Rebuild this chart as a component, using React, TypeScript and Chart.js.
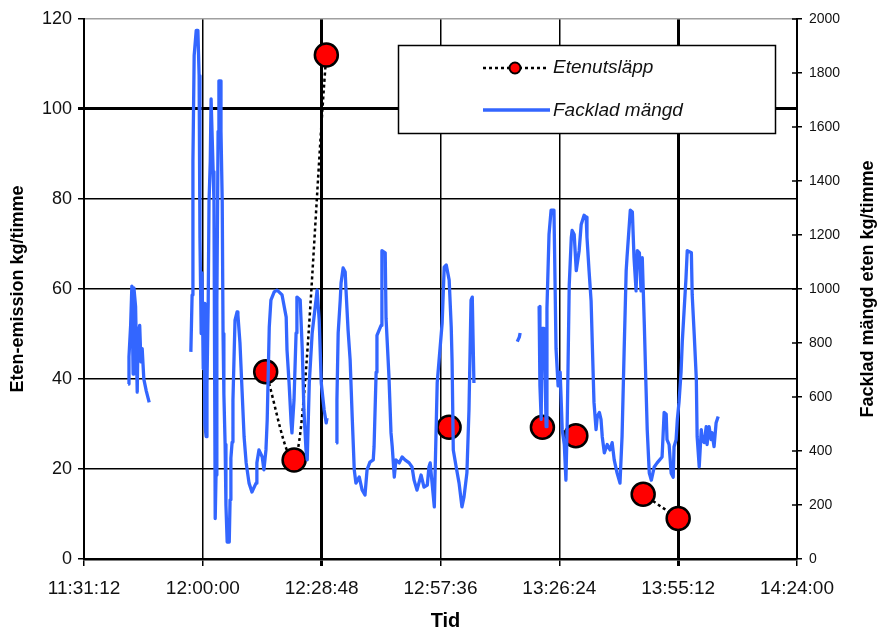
import React, { useEffect, useRef } from 'react';
import { Chart, registerables } from 'chart.js';

Chart.register(...registerables);

const FONT = '"Liberation Sans", Arial, Helvetica, sans-serif';

// Axis ticks
const X_TICKS = ['11:31:12', '12:00:00', '12:28:48', '12:57:36', '13:26:24', '13:55:12', '14:24:00'];
const X_THICK = ['12:28:48', '13:55:12'];
const LEFT_MAX = 120;
const LEFT_STEP = 20;
const RIGHT_MAX = 2000;
const RIGHT_STEP = 200;

const LEFT_TITLE = 'Eten-emission kg/timme';
const RIGHT_TITLE = 'Facklad mängd eten kg/timme';
const X_TITLE = 'Tid';

// Etenutsläpp (kg/timme, left axis)
const ETEN_LABEL = 'Etenutsläpp';
const ETEN_TIMES = ['12:15:14', '12:22:07', '12:29:56', '12:59:41', '13:22:18', '13:30:24', '13:46:43', '13:55:12'];
const ETEN_VALUES = [41.6, 22.0, 112.0, 29.3, 29.3, 27.4, 14.4, 9.0];
// whether each sample is joined to the next one by the dotted line
const ETEN_LINKED = [true, true, false, false, false, false, true];

// Facklad mängd (kg/timme, right axis); time in minutes after midnight, null = gap in log
const FACK_LABEL = 'Facklad mängd';
const FACK_MIN = [
  701.9, 702.1, 702.5, 702.8, 703.1, 703.3, 703.7, 704.1, 704.3, 704.7, 705.0, 705.3, 705.7, 706.3, 707.0,
  712.0,
  717.1, 717.4, 717.6, 717.9, 718.4, 718.8, 719.1, 719.3, 719.6, 719.8, 720.1, 720.3, 720.5, 720.8, 721.0,
  721.3, 721.5, 721.8, 722.0, 722.2, 722.5, 722.7, 723.0, 723.2, 723.4, 723.7, 723.9, 724.2, 724.4, 724.7,
  724.9, 725.1, 725.4, 725.6, 725.9, 726.4, 726.6, 726.8, 727.1, 727.3, 727.6, 727.8, 728.3, 728.5, 729.0,
  729.5, 730.0, 730.5, 731.2, 731.9, 732.9, 733.1, 733.6, 734.4, 734.8, 735.3, 735.6, 736.1, 736.5, 737.3,
  738.0, 739.2, 740.2, 740.4, 740.9, 741.4, 741.6, 742.1, 742.6, 742.8, 743.6, 744.1, 744.5, 745.0, 745.3,
  745.8, 746.5, 747.7, 748.2, 748.7, 749.4, 749.9, 750.1,
  751.0,
  752.3, 752.5, 752.8, 753.3, 753.5, 754.0, 754.5, 754.7, 755.2, 755.7, 756.2, 756.7, 757.1, 757.9, 758.6,
  759.3, 759.8, 760.5, 761.3, 761.5, 762.0, 762.2, 763.2, 763.4, 764.2, 764.4, 765.1, 765.6, 765.9, 766.4,
  766.8, 767.6, 768.3, 769.0, 770.0, 770.7, 771.2, 771.9, 772.9, 773.6, 774.4, 774.8, 775.1, 776.1, 776.8,
  777.8, 778.0, 778.5, 779.0, 779.7, 780.2, 780.4, 780.7, 781.4, 782.1, 782.8, 783.3, 784.0, 784.5, 785.0,
  785.3, 785.7,
  790.0,
  796.2, 796.7, 796.9,
  799.0,
  801.5, 801.7, 802.0, 802.2, 802.7, 803.2, 803.4, 803.9, 804.4, 805.1, 805.6, 806.1, 806.6, 807.1, 807.6,
  808.0, 808.3, 808.8, 809.3, 809.5, 810.0, 810.5, 811.2, 811.7, 812.4, 812.9, 813.1, 813.6, 814.1, 814.4,
  814.8, 815.3, 815.6, 816.1, 816.5, 816.8, 817.3, 818.0, 818.7, 819.2, 819.7, 820.4, 821.1, 821.6, 822.1,
  822.6, 822.8, 823.6, 824.1, 824.5, 825.0, 825.3, 825.8, 826.2, 826.5, 827.0, 827.4, 827.7, 828.2, 828.7,
  829.4, 830.1, 831.3, 831.8, 832.3, 832.5, 833.0, 833.5, 834.0, 834.2, 834.7, 835.0, 835.4, 835.9, 836.2,
  837.1, 837.4, 838.4, 838.6, 839.1, 839.6, 839.8, 840.3, 840.8, 841.0, 841.5, 842.0, 842.2, 842.7, 843.2,
  843.4, 843.9, 844.4, 844.9,
];
const FACK_KG = [
  648, 749, 865, 1011, 685, 1004, 936, 618, 835, 865, 730, 779, 666, 622, 580,
  null,
  767, 978, 1472, 1865, 1958, 1958, 1790, 1191, 835, 1060, 705, 947, 498, 453, 648,
  947, 1322, 1472, 1704, 1704, 1435, 1322, 150, 311, 947, 1584, 1771, 1771, 1584, 1322,
  835, 611, 424, 199, 63, 63, 219, 374, 433, 589, 767, 885, 915, 904, 800,
  626, 452, 356, 281, 248, 281, 356, 404, 378, 330, 404, 515, 859, 959, 989,
  996, 978, 896, 774, 652, 504, 467, 589, 837, 970, 959, 774, 552, 404, 367,
  652, 837, 996, 885, 652, 552, 504, 522,
  null,
  430, 589, 837, 959, 1022, 1078, 1063, 996, 848, 737, 526, 330, 281, 304, 256,
  237, 330, 359, 367, 416, 692, 828, 865, 1142, 1134, 892, 678, 468, 416, 303,
  367, 356, 378, 367, 356, 341, 292, 255, 311, 266, 274, 341, 356, 193, 652,
  837, 874, 1081, 1089, 1033, 859, 737, 404, 341, 281, 193, 230, 319, 552, 959,
  970, 652,
  null,
  805, 822, 837,
  null,
  936, 641, 517, 854, 854, 490, 929, 1202, 1292, 1292, 779, 641, 692, 479, 424,
  292, 498, 1015, 1191, 1217, 1202, 1068, 1142, 1239, 1273, 1266, 1191, 1068, 955, 791,
  580, 479, 528, 543, 517, 453, 393, 424, 404, 431, 367, 318, 281, 453, 767,
  1068, 1116, 1292, 1285, 1116, 993, 1142, 1134, 993, 1116, 865, 641, 479, 318, 292,
  341, 356, 378, 543, 536, 442, 424, 318, 303, 416, 442, 517, 580, 692, 805,
  1041, 1142, 1134, 978, 828, 666, 453, 341, 479, 442, 431, 490, 424, 490, 442,
  468, 416, 505, 528,
];

const parseTime = (s: string) => {
  const [h, m, sec] = s.split(':').map(Number);
  return h * 60 + m + sec / 60;
};
const fmtTime = (v: number) => {
  const total = Math.round(v * 60);
  const h = Math.floor(total / 3600);
  const m = Math.floor((total % 3600) / 60);
  const s = total % 60;
  const p = (n: number) => String(n).padStart(2, '0');
  return `${p(h)}:${p(m)}:${p(s)}`;
};

const decorPlugin = {
  id: 'decor',
  afterDraw(chart: any) {
    const ctx = chart.ctx;
    const area = chart.chartArea;
    const yR = chart.scales.y1;
    ctx.save();
    // inner half of the crossing tick marks on the right axis
    ctx.strokeStyle = '#000';
    ctx.lineWidth = 1.5;
    yR.ticks.forEach((t: any) => {
      const py = yR.getPixelForValue(t.value);
      ctx.beginPath();
      ctx.moveTo(area.right - 5, py);
      ctx.lineTo(area.right, py);
      ctx.stroke();
    });

    // axis titles
    const cy = (area.top + area.bottom) / 2;
    ctx.fillStyle = '#000';
    ctx.font = `bold 18px ${FONT}`;
    ctx.textAlign = 'center';
    ctx.textBaseline = 'middle';
    ctx.save();
    ctx.translate(18, cy);
    ctx.rotate(-Math.PI / 2);
    ctx.fillText(LEFT_TITLE, 0, 0);
    ctx.restore();
    ctx.save();
    ctx.translate(868, cy);
    ctx.rotate(-Math.PI / 2);
    ctx.fillText(RIGHT_TITLE, 0, 0);
    ctx.restore();
    ctx.font = `bold 20px ${FONT}`;
    ctx.textBaseline = 'alphabetic';
    ctx.fillText(X_TITLE, (area.left + area.right) / 2 + 5, 627);

    // legend box
    const bx = 398.5, by = 45.5, bw = 377, bh = 88;
    ctx.fillStyle = '#fff';
    ctx.fillRect(bx, by, bw, bh);
    ctx.strokeStyle = '#000';
    ctx.lineWidth = 1.5;
    ctx.strokeRect(bx, by, bw, bh);

    const r1 = 68, r2 = 110;
    ctx.setLineDash([3, 3]);
    ctx.lineWidth = 2.5;
    ctx.beginPath();
    ctx.moveTo(483, r1);
    ctx.lineTo(547, r1);
    ctx.stroke();
    ctx.setLineDash([]);
    ctx.beginPath();
    ctx.arc(515, r1, 5.5, 0, Math.PI * 2);
    ctx.fillStyle = '#ff0000';
    ctx.fill();
    ctx.lineWidth = 2;
    ctx.stroke();

    ctx.strokeStyle = '#3366ff';
    ctx.lineWidth = 3.5;
    ctx.beginPath();
    ctx.moveTo(483, r2);
    ctx.lineTo(550, r2);
    ctx.stroke();

    ctx.fillStyle = '#111';
    ctx.font = `italic 19px ${FONT}`;
    ctx.textAlign = 'left';
    ctx.textBaseline = 'middle';
    ctx.fillText(ETEN_LABEL, 553, r1);
    ctx.fillText(FACK_LABEL, 553, r2 + 1);
    ctx.restore();
  },
};

export default function App() {
  const canvasRef = useRef<HTMLCanvasElement | null>(null);

  useEffect(() => {
    if (!canvasRef.current) return;

    const etenData: any[] = [];
    ETEN_TIMES.forEach((t, i) => {
      etenData.push({ x: parseTime(t), y: ETEN_VALUES[i] });
      if (i < ETEN_TIMES.length - 1 && !ETEN_LINKED[i]) {
        etenData.push({ x: (parseTime(t) + parseTime(ETEN_TIMES[i + 1])) / 2, y: null });
      }
    });
    const fackData = FACK_MIN.map((m, i) => ({ x: m, y: FACK_KG[i] }));

    const xMin = parseTime(X_TICKS[0]);
    const xMax = parseTime(X_TICKS[X_TICKS.length - 1]);
    const thick = X_THICK.map(parseTime);

    const chart = new Chart(canvasRef.current, {
      type: 'line',
      data: {
        datasets: [
          {
            label: FACK_LABEL,
            data: fackData,
            yAxisID: 'y1',
            borderColor: '#3366ff',
            borderWidth: 3.3,
            borderJoinStyle: 'round',
            pointRadius: 0,
            tension: 0,
            spanGaps: false,
            order: 0,
          },
          {
            label: ETEN_LABEL,
            data: etenData,
            yAxisID: 'y',
            borderColor: '#000',
            borderWidth: 2.5,
            borderDash: [3, 3],
            cubicInterpolationMode: 'monotone',
            spanGaps: false,
            pointRadius: 11.5,
            pointBackgroundColor: '#ff0000',
            pointBorderColor: '#000',
            pointBorderWidth: 2.5,
            order: 1,
          },
        ],
      } as any,
      options: {
        animation: false,
        responsive: false,
        events: [],
        layout: { padding: { top: 19, left: 0, right: 0, bottom: 0 } },
        plugins: {
          legend: { display: false },
          tooltip: { enabled: false },
        },
        scales: {
          x: {
            type: 'linear',
            min: xMin,
            max: xMax,
            afterBuildTicks: (s: any) => {
              s.ticks = X_TICKS.map((t) => ({ value: parseTime(t) }));
            },
            afterFit: (s: any) => {
              s.height = 69;
            },
            ticks: {
              callback: (v: any) => fmtTime(Number(v)),
              font: { size: 19, family: FONT },
              color: '#111',
              padding: 11,
              maxRotation: 0,
              autoSkip: false,
            },
            grid: {
              color: '#000',
              lineWidth: (c: any) =>
                c.tick && thick.some((t) => Math.abs(t - c.tick.value) < 0.01) ? 3 : 1.5,
              tickLength: 7,
            },
            border: { color: '#000', width: 2.5 },
          },
          y: {
            position: 'left',
            min: 0,
            max: LEFT_MAX,
            afterFit: (s: any) => {
              s.width = 84;
            },
            ticks: {
              stepSize: LEFT_STEP,
              callback: (v: any) => String(v),
              font: { size: 18, family: FONT },
              color: '#111',
              padding: 6,
            },
            grid: {
              color: (c: any) => (c.tick && c.tick.value === LEFT_MAX ? '#a0a0a0' : '#000'),
              tickColor: '#000',
              lineWidth: (c: any) => (c.tick && c.tick.value === 100 ? 3 : 1.5),
              tickLength: 6,
            },
            border: { color: '#000', width: 2 },
          },
          y1: {
            position: 'right',
            min: 0,
            max: RIGHT_MAX,
            afterFit: (s: any) => {
              s.width = 81;
            },
            ticks: {
              stepSize: RIGHT_STEP,
              callback: (v: any) => String(v),
              font: { size: 14, family: FONT },
              color: '#111',
              padding: 7,
            },
            grid: {
              drawOnChartArea: false,
              color: '#000',
              lineWidth: 1.5,
              tickLength: 5,
            },
            border: { color: '#000', width: 2 },
          },
        },
      } as any,
      plugins: [decorPlugin],
    });

    return () => chart.destroy();
  }, []);

  return (
    <div style={{ position: 'absolute', left: 0, top: 0, width: 878, height: 628, background: '#fff' }}>
      <canvas ref={canvasRef} width={878} height={628} style={{ display: 'block' }} />
    </div>
  );
}
